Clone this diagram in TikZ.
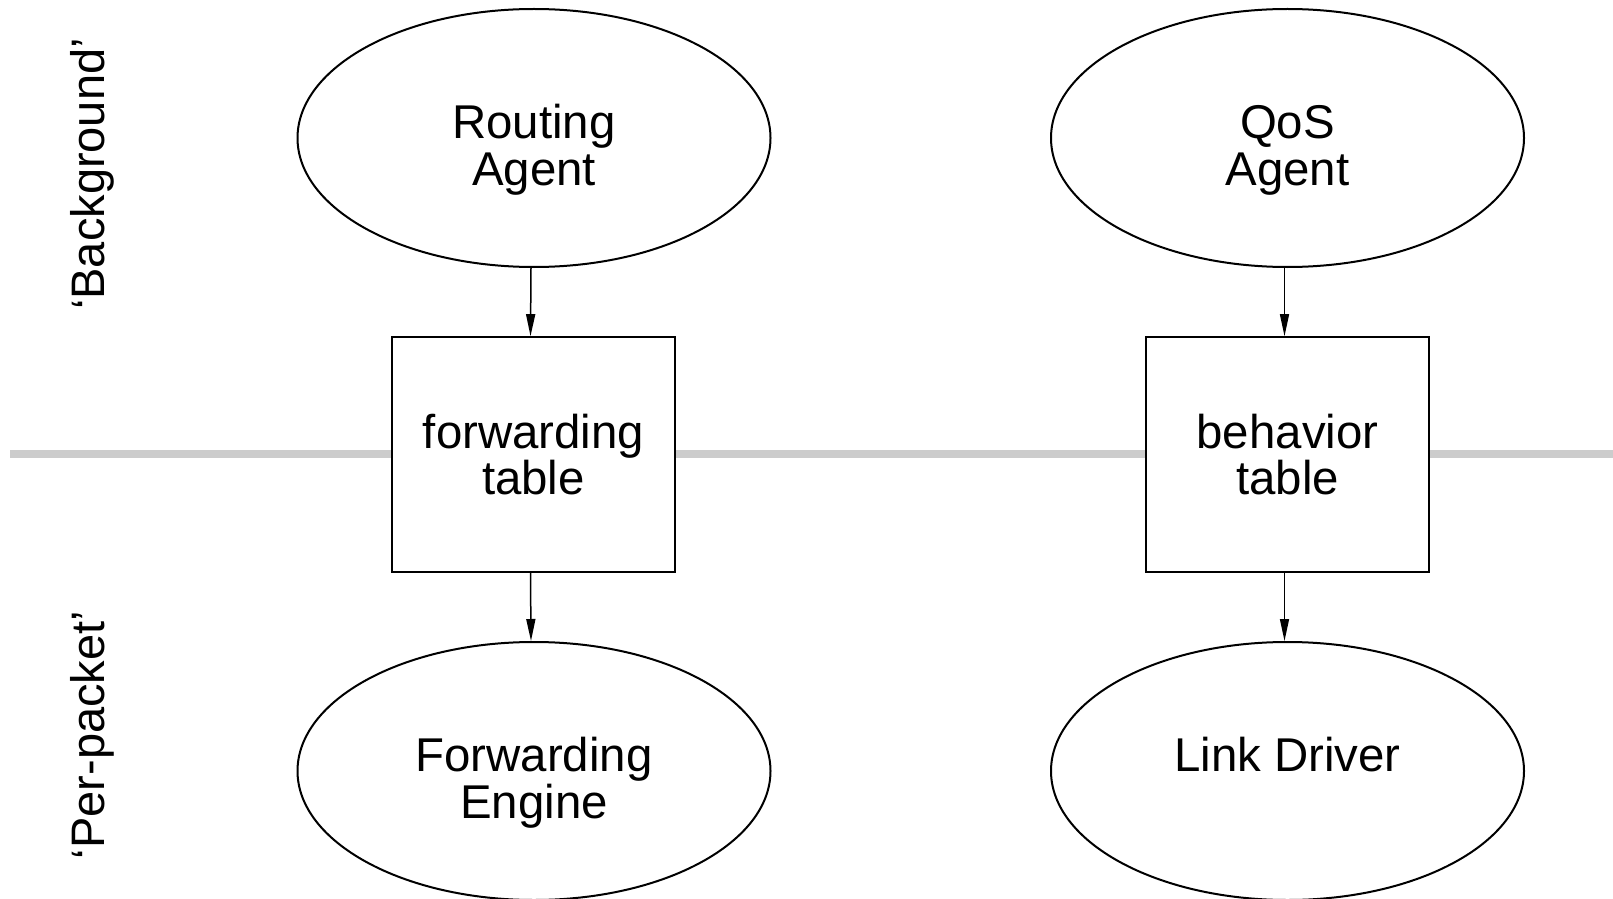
\documentclass[tikz,border=0pt]{standalone}
\usepackage{fontspec}
\setmainfont{Liberation Sans}
\usetikzlibrary{shapes,arrows.meta,positioning}
\definecolor{divider}{RGB}{204,204,204}
\newcommand{\ellpad}{\rule{0pt}{29pt}}
\newcommand{\elldep}{\rule[-5pt]{0pt}{5pt}}
\tikzset{
    agent/.style={draw, line width=1pt, ellipse, minimum width=236.5pt, minimum height=129pt, inner sep=0pt, align=center, font=\fontsize{23.7}{23.2}\selectfont},
    tablebox/.style={draw, line width=1pt, fill=white, minimum width=141.5pt, minimum height=117.3pt, inner sep=0pt, align=center, font=\fontsize{23.7}{23.2}\selectfont},
    flow/.style={-{Triangle[length=11pt,width=4.5pt]}, line width=0.75pt},
    side/.style={rotate=90, font=\fontsize{23.5}{24}\selectfont}
}
\begin{document}
\begin{tikzpicture}[x=0.5pt,y=0.5pt,yscale=-1,xscale=1]
    \useasboundingbox (0,0) rectangle (1613,899);

    %Line: divider
    \coordinate (dl) at (10,454);
    \coordinate (dr) at (1613,454);
    \draw [divider, line width=4pt] (dl) -- (dr);

    %Shape: Ellipse [routing]
    \node [agent] (ra) at (534,138) {\ellpad Routing\\Agent\elldep};
    %Shape: Rectangle [forwarding]
    \node [tablebox] (ft) at (533.5,454.5) {forwarding\\table};
    %Shape: Ellipse [engine]
    \node [agent] (fe) at (534,771) {\ellpad Forwarding\\Engine\elldep};

    %Shape: Ellipse [qos]
    \node [agent] (qa) at (1287.5,138) {\ellpad QoS\\Agent\elldep};
    %Shape: Rectangle [behavior]
    \node [tablebox] (bt) at (1287.5,454.5) {behavior\\table};
    %Shape: Ellipse [driver]
    \node [agent] (ld) at (1287.5,771) {\ellpad Link Driver\\\elldep};

    %Straight Lines
    \draw [flow] ([xshift=-1.5pt]ra.south) -- ([xshift=-1.5pt]ft.north);
    \draw [flow] ([xshift=-1.5pt]ft.south) -- ([xshift=-1.5pt]fe.north);
    \draw [flow] ([xshift=-1.5pt]qa.south) -- ([xshift=-1.5pt]bt.north);
    \draw [flow] ([xshift=-1.5pt]bt.south) -- ([xshift=-1.5pt]ld.north);

    % Text Node
    \node [side] (bg) at (92,174) {‘Background’};
    % Text Node
    \node [side] (pp) at (92,735) {‘Per-packet’};

\end{tikzpicture}
\end{document}
